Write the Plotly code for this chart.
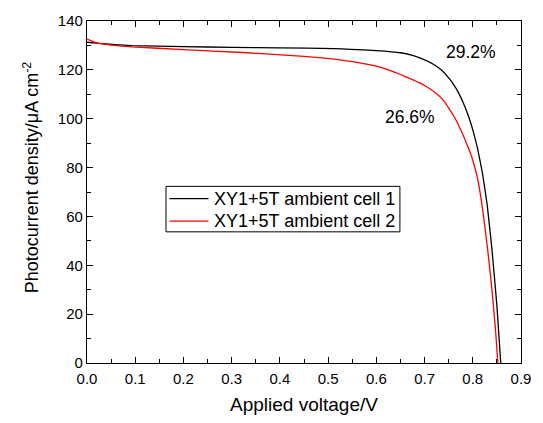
import plotly.graph_objects as go

# J-V curves of two XY1+5T cells measured under ambient conditions
voltage_cell1 = [0.000, 0.026, 0.093, 0.20, 0.30, 0.40, 0.513, 0.546, 0.60, 0.65,
                 0.675, 0.69, 0.705, 0.72, 0.735, 0.75, 0.76, 0.77, 0.78, 0.79,
                 0.80, 0.81, 0.82, 0.83, 0.84, 0.85, 0.858, 0.862]
current_cell1 = [131.3, 130.8, 129.9, 129.5, 129.2, 129.0, 128.7, 128.4, 127.9, 127.0,
                 125.9, 124.9, 123.7, 122.1, 119.9, 116.7, 114.1, 110.8, 106.6, 101.6,
                 95.5, 87.8, 77.8, 64.5, 46.0, 23.5, 0.0, -10.0]

voltage_cell2 = [0.000, 0.020, 0.050, 0.093, 0.20, 0.323, 0.45, 0.513, 0.55, 0.60,
                 0.625, 0.65, 0.675, 0.70, 0.72, 0.74, 0.76, 0.775, 0.79, 0.80,
                 0.81, 0.82, 0.83, 0.84, 0.847, 0.852, 0.856]
current_cell2 = [132.6, 131.0, 130.1, 129.4, 128.3, 127.1, 125.5, 124.4, 123.4, 121.5,
                 120.0, 118.1, 116.0, 113.6, 111.0, 107.3, 101.3, 95.5, 88.5, 83.0,
                 75.5, 63.5, 48.0, 29.5, 14.0, 0.0, -10.0]

series_names = ["XY1+5T ambient cell 1", "XY1+5T ambient cell 2"]
series_colors = ["black", "#ff0000"]
efficiency_labels = ["29.2%", "26.6%"]
efficiency_pos_v = [0.797, 0.670]
efficiency_pos_j = [127.2, 100.9]

FONT = "Arial, Liberation Sans, sans-serif"

fig = go.Figure()
for xs, ys, name, color in zip([voltage_cell1, voltage_cell2],
                               [current_cell1, current_cell2],
                               series_names, series_colors):
    fig.add_trace(go.Scatter(x=xs, y=ys, mode="lines", name=name,
                             line=dict(color=color, width=1.3, shape="spline", smoothing=0.3)))

for txt, xv, yv in zip(efficiency_labels, efficiency_pos_v, efficiency_pos_j):
    fig.add_annotation(x=xv, y=yv, text=txt, showarrow=False,
                       font=dict(family=FONT, size=17.5, color="black"))

# boxed legend inside the plot area (paper coordinates)
leg_x0, leg_x1, leg_y0, leg_y1 = 0.182, 0.721, 0.3835, 0.5165
leg_rows = [0.4804, 0.4149]
fig.add_shape(type="rect", xref="paper", yref="paper",
              x0=leg_x0, x1=leg_x1, y0=leg_y0, y1=leg_y1,
              line=dict(color="black", width=1), fillcolor="white", layer="above")
for row_y, name, color in zip(leg_rows, series_names, series_colors):
    fig.add_shape(type="line", xref="paper", yref="paper",
                  x0=0.190, x1=0.280, y0=row_y, y1=row_y,
                  line=dict(color=color, width=1.3), layer="above")
    fig.add_annotation(xref="paper", yref="paper", x=0.289, y=row_y,
                       xanchor="left", yanchor="middle", text=name, showarrow=False,
                       font=dict(family=FONT, size=18, color="black"))

# y-axis title placed as a rotated annotation
fig.add_annotation(xref="paper", yref="paper", x=-0.129, y=0.543,
                   xanchor="center", yanchor="middle", textangle=-90, showarrow=False,
                   text="Photocurrent density/\u03bcA cm<sup>-2</sup>",
                   font=dict(family=FONT, size=18, color="black"))

axis_common = dict(
    showgrid=False, zeroline=False,
    showline=True, linecolor="black", linewidth=1.3, mirror="ticks",
    ticks="inside", ticklen=6, tickwidth=1.2, tickcolor="black",
    tickfont=dict(family=FONT, size=15, color="black"),
)

fig.update_xaxes(range=[0, 0.9], dtick=0.1, tickformat=".1f", ticklabelstandoff=2,
                 minor=dict(ticks="inside", ticklen=3.5, dtick=0.05, tickcolor="black", tickwidth=1),
                 title=dict(text="Applied voltage/V", font=dict(family=FONT, size=19, color="black"),
                            standoff=11),
                 **axis_common)
fig.update_yaxes(range=[0, 140], dtick=20,
                 minor=dict(ticks="inside", ticklen=3.5, dtick=10, tickcolor="black", tickwidth=1),
                 **axis_common)

fig.update_layout(
    width=543, height=423,
    margin=dict(l=87, r=12, t=13, b=58),
    plot_bgcolor="white", paper_bgcolor="white",
    font=dict(family=FONT, color="black"),
    showlegend=False,
)

fig.write_html("out.html")
